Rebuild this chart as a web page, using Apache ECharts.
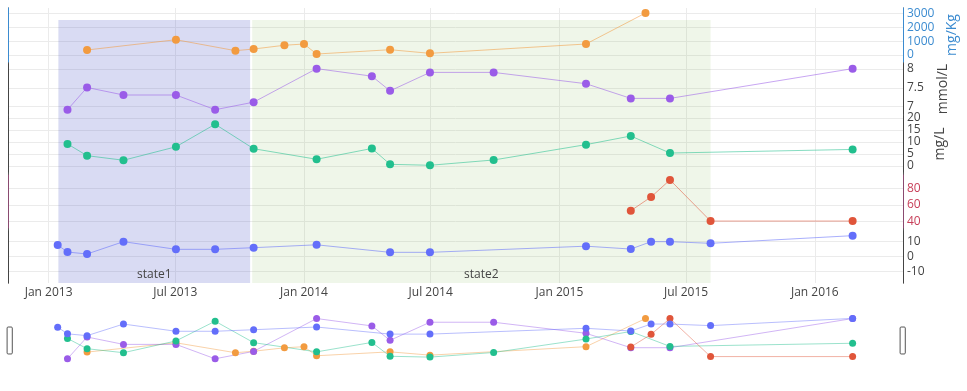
<!DOCTYPE html>
<html><head><meta charset="utf-8">
<script src="https://cdn.jsdelivr.net/npm/echarts@6/dist/echarts.min.js"></script>
<style>html,body{margin:0;padding:0;background:#fff}#c{width:967px;height:391px}</style>
</head><body><div id="c"></div>
<script>
// ---- data ----
const xTickDates = ['2013-01-01','2013-07-01','2014-01-01','2014-07-01','2015-01-01','2015-07-01','2016-01-01'];
const xTickLabels = ['Jan 2013','Jul 2013','Jan 2014','Jul 2014','Jan 2015','Jul 2015','Jan 2016'];

const stateNames = ['state1','state2'];
const stateStarts = ['2013-01-15','2013-10-19'];
const stateEnds = ['2013-10-16','2015-08-05'];

const orangeDates = ['2013-02-25','2013-07-02','2013-09-25','2013-10-21','2013-12-04','2014-01-01','2014-01-19','2014-05-04','2014-06-30','2015-02-08','2015-05-04'];
const orangeValues = [360,1100,310,430,700,790,70,380,120,790,3020];

const purpleDates = ['2013-01-28','2013-02-25','2013-04-18','2013-07-02','2013-08-27','2013-10-21','2014-01-19','2014-04-08','2014-05-04','2014-06-30','2014-09-29','2015-02-08','2015-04-13','2015-06-08','2016-02-24'];
const purpleValues = [6.92,7.51,7.31,7.31,6.92,7.12,8.01,7.81,7.42,7.91,7.91,7.61,7.22,7.22,8.01];

const greenDates = ['2013-01-28','2013-02-25','2013-04-18','2013-07-02','2013-08-27','2013-10-21','2014-01-19','2014-04-08','2014-05-04','2014-06-30','2014-09-29','2015-02-08','2015-04-13','2015-06-08','2016-02-24'];
const greenValues = [9.2,4.3,2.4,8.0,17.4,7.2,2.8,7.3,0.7,0.3,2.5,8.9,12.5,5.4,6.9];

const redDates = ['2015-04-13','2015-05-12','2015-06-08','2015-08-05','2016-02-24'];
const redValues = [53.2,69.6,90,40.8,40.8];

const blueDates = ['2013-01-14','2013-01-28','2013-02-25','2013-04-18','2013-07-02','2013-08-27','2013-10-21','2014-01-19','2014-05-04','2014-06-30','2015-02-08','2015-04-13','2015-05-12','2015-06-08','2015-08-05','2016-02-24'];
const blueValues = [7.8,3.1,1.8,10,4.9,4.9,6,7.9,2.9,2.9,7,5.1,10,10,8.9,14];

const mgkgTicks = [0,1000,2000,3000];
const mmolTicks = [7,7.5,8];
const mglTicks = [0,5,10,15,20];
const redTicks = [40,60,80];
const blueTicks = [-10,0,10];

// ---- build ----
function ts(s){ const p = s.split('-').map(Number); return new Date(p[0], p[1]-1, p[2]).getTime(); }
function pairs(d, v){ return d.map((s,i)=>[ts(s), v[i]]); }

const FONT = 'Open Sans';
const X_MIN = ts('2012-11-04'), X_MAX = ts('2016-05-06');
const L = 8, R = 64;
const xTickTs = xTickDates.map(ts);

const panels = [
  {name:'mg/Kg', top:8, height:54, min:-504, max:3381, ticks:mgkgTicks, lab:'#3b8bd0', axis:'#3b8bd0', gap:42, data:pairs(orangeDates, orangeValues), col:'#F29B40'},
  {name:'mmol/L', top:64, height:50, min:6.806, max:8.133, ticks:mmolTicks, lab:'#444', axis:'#444', gap:33, data:pairs(purpleDates, purpleValues), col:'#9A5CE8'},
  {name:'mg/L', top:116, height:56, min:-2.5, max:20.83, ticks:mglTicks, lab:'#444', axis:'#444', gap:30, data:pairs(greenDates, greenValues), col:'#22BF8E'},
  {name:'', top:175, height:53, min:32.5, max:95.9, ticks:redTicks, lab:'#c8405a', axis:'#8a4a70', gap:30, data:pairs(redDates, redValues), col:'#E0553A'},
  {name:'', top:231, height:52, min:-17.5, max:17.1, ticks:blueTicks, lab:'#444', axis:'#444', gap:30, data:pairs(blueDates, blueValues), col:'#636EFA'}
];

const grids = [], xAxes = [], yAxes = [], series = [];
const hiddenX = (gi) => ({type:'value', gridIndex:gi, min:X_MIN, max:X_MAX, show:false, splitLine:{show:false}});

panels.forEach((p, i) => {
  grids.push({left:L, right:R, top:p.top, height:p.height});
  xAxes.push(hiddenX(i));
});
// background grid (vertical gridlines + x labels)
grids.push({left:L, right:R, top:8, height:275});
xAxes.push({type:'value', gridIndex:5, min:X_MIN, max:X_MAX,
  axisLine:{show:false}, axisTick:{show:false, customValues:xTickTs},
  axisLabel:{customValues:xTickTs, color:'#444', fontSize:12, fontFamily:FONT, margin:4,
    formatter:(v)=>{ const i = xTickTs.indexOf(v); return i>=0 ? xTickLabels[i] : ''; }},
  splitLine:{show:true, lineStyle:{color:'#ebebeb', width:1}}
});
// shading grid
grids.push({left:L, right:R, top:20, height:263});
xAxes.push(hiddenX(6));
// mini (range slider) grid
grids.push({left:L, right:R, top:314, height:49});
xAxes.push(hiddenX(7));

// right axes (0-4)
panels.forEach((p, i) => {
  yAxes.push({type:'value', gridIndex:i, position:'right', min:p.min, max:p.max,
    name:p.name, nameLocation:'middle', nameRotate:90, nameGap:p.gap, nameMoveOverlap:false,
    nameTextStyle:{color:p.lab, fontSize:14, fontFamily:FONT},
    axisLine:{show:true, lineStyle:{color:p.axis, width:1}},
    axisTick:{show:false, customValues:p.ticks},
    axisLabel:{customValues:p.ticks, color:p.lab, fontSize:12, fontFamily:FONT, margin:4, formatter:(v)=>String(v)},
    splitLine:{show:true, lineStyle:{color:'#ebebeb', width:1}}
  });
});
// left axis lines (5-9)
panels.forEach((p, i) => {
  yAxes.push({type:'value', gridIndex:i, position:'left', min:p.min, max:p.max,
    axisLine:{show:true, lineStyle:{color:p.axis, width:1}},
    axisTick:{show:false}, axisLabel:{show:false}, splitLine:{show:false}});
});
yAxes.push({type:'value', gridIndex:5, min:0, max:1, position:'left', z:-1,
  axisLine:{show:true, lineStyle:{color:'#555', width:1}}, axisTick:{show:false}, axisLabel:{show:false}, splitLine:{show:false}}); // 10
yAxes.push({type:'value', gridIndex:6, min:0, max:1, show:false, splitLine:{show:false}}); // 11
panels.forEach((p) => { yAxes.push({type:'value', gridIndex:7, min:p.min, max:p.max, show:false, splitLine:{show:false}}); }); // 12-16
yAxes.push({type:'value', gridIndex:5, min:0, max:1, position:'right', z:-1,
  axisLine:{show:true, lineStyle:{color:'#555', width:1}}, axisTick:{show:false}, axisLabel:{show:false}, splitLine:{show:false}}); // 17

// shading
const shadeColors = ['rgba(75,85,200,0.21)','rgba(140,190,100,0.14)'];
series.push({type:'line', xAxisIndex:6, yAxisIndex:11, data:[], z:1, silent:true,
  markArea:{silent:true,
    label:{show:true, position:'insideBottom', distance:2, color:'#444', fontSize:12, fontFamily:FONT},
    data: stateNames.map((n,i)=>[
      {name:n, xAxis:ts(stateStarts[i]), itemStyle:{color:shadeColors[i]}},
      {xAxis:ts(stateEnds[i])}
    ])
  }
});

// main series
panels.forEach((p, i) => {
  series.push({type:'line', xAxisIndex:i, yAxisIndex:i, data:p.data, z:3,
    symbol:'circle', symbolSize:8, showSymbol:true, animation:false,
    itemStyle:{color:p.col}, lineStyle:{color:p.col, width:1, opacity:0.55}});
});
// mini series
panels.forEach((p, i) => {
  series.push({type:'line', xAxisIndex:7, yAxisIndex:12+i, data:p.data, z:3,
    symbol:'circle', symbolSize:7, showSymbol:true, animation:false,
    itemStyle:{color:p.col}, lineStyle:{color:p.col, width:1, opacity:0.45}});
});

const chart = echarts.init(document.getElementById('c'), null, {renderer:'canvas'});
chart.setOption({
  animation:false,
  backgroundColor:'#fff',
  textStyle:{fontFamily:FONT},
  grid:grids, xAxis:xAxes, yAxis:yAxes, series:series,
  dataZoom:[{type:'slider', xAxisIndex:[0,1,2,3,4,5,6,7], filterMode:'none', start:0, end:100,
    left:L, right:R, top:316, height:49,
    showDataShadow:false, showDetail:false, brushSelect:false, moveHandleSize:0,
    borderColor:'transparent', backgroundColor:'transparent', fillerColor:'rgba(0,0,0,0)',
    dataBackground:{lineStyle:{opacity:0}, areaStyle:{opacity:0}},
    handleIcon:'path://M1,0 L4,0 Q5,0 5,1 L5,25 Q5,26 4,26 L1,26 Q0,26 0,25 L0,1 Q0,0 1,0 Z',
    handleSize:'55%',
    handleStyle:{color:'#fff', borderColor:'#555', borderWidth:1}
  }]
});
</script></body></html>
